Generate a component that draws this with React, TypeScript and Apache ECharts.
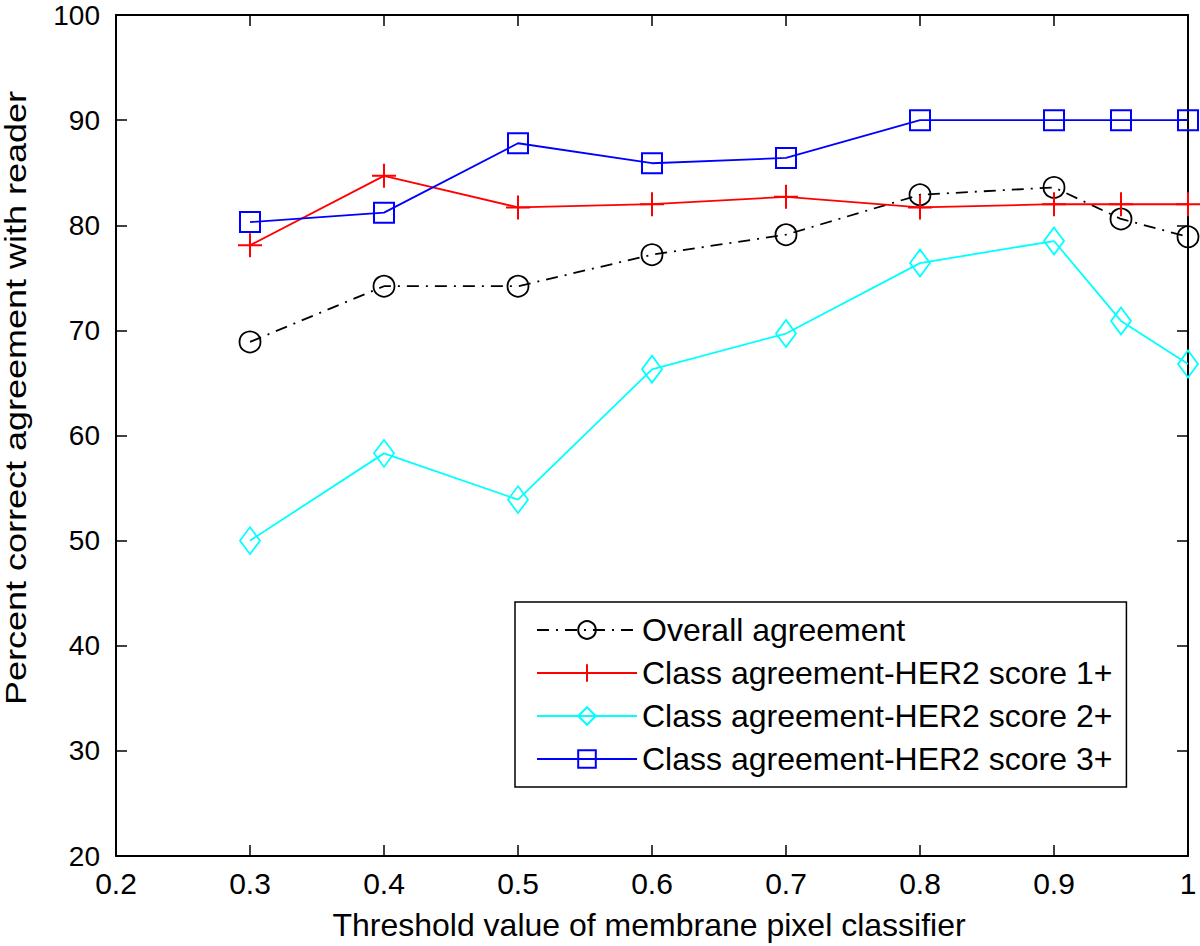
import React, { useEffect, useRef } from "react";
import * as echarts from "echarts";

const thresholds = [0.3, 0.4, 0.5, 0.6, 0.7, 0.8, 0.9, 0.95, 1.0];
const overall = [68.9, 74.2, 74.2, 77.2, 79.1, 82.9, 83.6, 80.6, 78.9];
const score1 = [78.1, 84.7, 81.7, 82.0, 82.7, 81.7, 82.0, 82.0, 82.0];
const score2 = [50.0, 58.3, 53.9, 66.3, 69.7, 76.4, 78.5, 70.9, 66.8];
const score3 = [80.3, 81.2, 87.8, 85.9, 86.4, 90.0, 90.0, 90.0, 90.0];
const seriesNames = [
  "Overall agreement",
  "Class agreement-HER2 score 1+",
  "Class agreement-HER2 score 2+",
  "Class agreement-HER2 score 3+",
];
const xTitle = "Threshold value of membrane pixel classifier";
const yTitle = "Percent correct agreement with reader";

const FONT = "'Liberation Sans', Arial, sans-serif";

const pts = (ys: number[]) => thresholds.map((x, i) => [x, ys[i]]);

export default function App() {
  const ref = useRef<HTMLDivElement>(null);
  useEffect(() => {
    if (!ref.current) return;
    const chart = echarts.init(ref.current, undefined, { renderer: "svg" });
    const axisLine = { show: true, lineStyle: { color: "#000", width: 2 } };
    const tick = { show: true, inside: true, length: 11, lineStyle: { color: "#000", width: 1.5 } };
    const fmt = (v: number) => String(+v.toFixed(2));
    chart.setOption({
      animation: false,
      backgroundColor: "#fff",
      grid: { left: 116, right: 12, top: 15, bottom: 90, containLabel: false },
      xAxis: [
        {
          type: "value", min: 0.2, max: 1, interval: 0.1, position: "bottom",
          axisLine, axisTick: tick, splitLine: { show: false },
          axisLabel: { fontFamily: FONT, fontSize: 30, color: "#000", margin: 12, formatter: fmt },
        },
        {
          type: "value", min: 0.2, max: 1, interval: 0.1, position: "top",
          axisLine, axisTick: tick, splitLine: { show: false }, axisLabel: { show: false },
        },
      ],
      yAxis: [
        {
          type: "value", min: 20, max: 100, interval: 10, position: "left",
          axisLine, axisTick: tick, splitLine: { show: false },
          axisLabel: { fontFamily: FONT, fontSize: 28, color: "#000", margin: 16 },
        },
        {
          type: "value", min: 20, max: 100, interval: 10, position: "right",
          axisLine, axisTick: tick, splitLine: { show: false }, axisLabel: { show: false },
        },
      ],
      legend: {
        orient: "vertical",
        left: 515,
        top: 602,
        width: 620,
        padding: [12, 14, 12, 21],
        itemGap: 11,
        itemWidth: 100,
        itemHeight: 22,
        itemTextGap: 11,
        backgroundColor: "#fff",
        borderColor: "#000",
        borderWidth: 1.5,
        textStyle: { fontFamily: FONT, fontSize: 32, color: "#000" },
        data: seriesNames,
      },
      graphic: [
        {
          type: "text", x: 649, y: 925,
          style: { text: xTitle, fontFamily: FONT, fontSize: 32, fill: "#000", align: "center", verticalAlign: "middle" },
        },
        {
          type: "text", x: 16, y: 398, rotation: Math.PI / 2, scaleX: 1.2,
          style: { text: yTitle, fontFamily: FONT, fontSize: 30, fill: "#000", align: "center", verticalAlign: "middle" },
        },
      ],
      series: [
        {
          name: seriesNames[0], type: "line", data: pts(overall), clip: false,
          symbol: "circle", symbolSize: 21,
          lineStyle: { color: "#000", width: 1.8, type: [12, 7, 2, 7] },
          itemStyle: { color: "none", borderColor: "#000", borderWidth: 1.8 },
          z: 3,
        },
        {
          name: seriesNames[1], type: "line", data: pts(score1), clip: false,
          symbol: "path://M5,0L5,10M0,5L10,5", symbolSize: 24,
          lineStyle: { color: "#ff0000", width: 1.8 },
          itemStyle: { color: "none", borderColor: "#ff0000", borderWidth: 2 },
          z: 4,
        },
        {
          name: seriesNames[2], type: "line", data: pts(score2), clip: false,
          symbol: "path://M5,0L10,7L5,14L0,7Z", symbolSize: [20, 27],
          lineStyle: { color: "#00ffff", width: 1.8 },
          itemStyle: { color: "none", borderColor: "#00ffff", borderWidth: 1.8 },
          z: 5,
        },
        {
          name: seriesNames[3], type: "line", data: pts(score3), clip: false,
          symbol: "rect", symbolSize: 20,
          lineStyle: { color: "#0000ff", width: 1.8 },
          itemStyle: { color: "none", borderColor: "#0000ff", borderWidth: 2 },
          z: 6,
        },
      ],
    });
    return () => chart.dispose();
  }, []);
  return (
    <div
      ref={ref}
      style={{ position: "fixed", left: 0, top: 0, width: 1200, height: 946, background: "#fff" }}
    />
  );
}
